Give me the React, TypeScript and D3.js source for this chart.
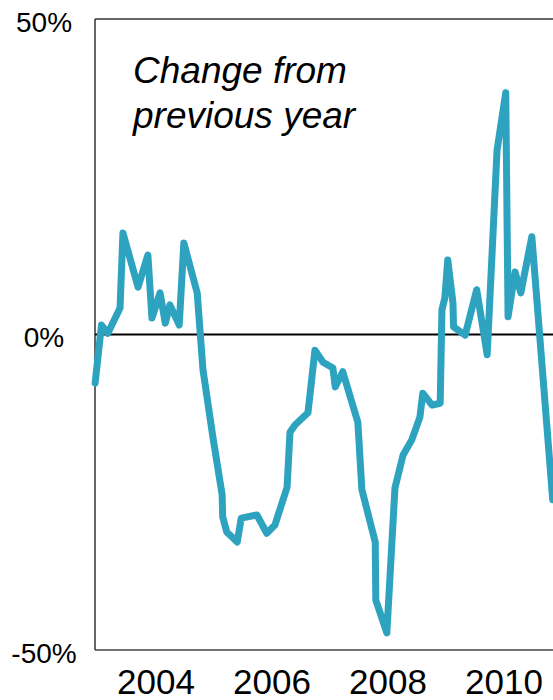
import { useMemo } from 'react'
import * as d3 from 'd3'

// decimal year of each vertex, and year-on-year change in percent
const times = [
  2002.95, 2003.06, 2003.17, 2003.38, 2003.43, 2003.69, 2003.86, 2003.93,
  2004.07, 2004.16, 2004.24, 2004.4, 2004.48, 2004.71, 2004.81, 2004.98,
  2005.14, 2005.15, 2005.22, 2005.4, 2005.47, 2005.74, 2005.91, 2006.05,
  2006.26, 2006.31, 2006.4, 2006.62, 2006.74, 2006.88, 2007.05, 2007.09,
  2007.22, 2007.48, 2007.55, 2007.78, 2007.79, 2007.98, 2008.12, 2008.26,
  2008.41, 2008.55, 2008.6, 2008.76, 2008.9, 2008.93, 2008.98, 2009.03,
  2009.12, 2009.13, 2009.33, 2009.41, 2009.53, 2009.71, 2009.88, 2010.03,
  2010.07, 2010.19, 2010.29, 2010.48, 2010.84,
]
const changes = [
  -7.7, 1.5, 0.2, 4.2, 16.1, 7.5, 12.6, 2.6,
  6.6, 1.8, 4.7, 1.5, 14.5, 6.6, -5.6, -16.2,
  -25.4, -28.9, -31.3, -32.9, -29.1, -28.6, -31.5, -30.2,
  -24.2, -15.5, -14.3, -12.4, -2.5, -4.4, -5.3, -8.3,
  -5.9, -13.9, -24.6, -32.9, -42.1, -47.3, -24.3, -19.1,
  -16.7, -13.1, -9.3, -11.2, -10.9, 3.9, 5.8, 11.8,
  5.0, 1.2, -0.1, 2.8, 7.1, -3.2, 29.2, 38.3,
  2.8, 9.9, 6.6, 15.5, -26.2,
]
const yTicks = [-50, 0, 50]
const yearTicks = [2004, 2006, 2008, 2010]

const W = 553
const H = 700
const font = '"Liberation Sans", Arial, sans-serif'

export default function App() {
  const left = 95
  const top = 19
  const bottom = 650

  const x = d3.scaleLinear().domain([2003, 2011]).range([98, 98 + 8 * 58])
  const y = d3.scaleLinear().domain([-50, 50]).range([bottom, top])

  const path = useMemo(() => {
    const pts = times.map((t, i) => [t, changes[i]] as [number, number])
    return d3.line<[number, number]>()
      .x(d => x(d[0]))
      .y(d => y(d[1]))(pts)
  }, [])

  return (
    <svg width={W} height={H} style={{ position: 'absolute', left: 0, top: 0, background: '#fff' }}>
      {/* frame */}
      <line x1={left} x2={left} y1={top} y2={bottom} stroke="#333" strokeWidth={1.5} />
      <line x1={left} x2={W} y1={top} y2={top} stroke="#333" strokeWidth={1.5} />
      <line x1={left} x2={W} y1={bottom} y2={bottom} stroke="#444" strokeWidth={1.5} />
      <line x1={left} x2={W} y1={y(0)} y2={y(0)} stroke="#000" strokeWidth={2} />

      {yTicks.map(t => (
        <text key={t} x={44} y={y(t) + 12.5} textAnchor="middle" fontFamily={font} fontSize={28} fill="#000">
          {t}%
        </text>
      ))}
      {yearTicks.map(t => (
        <text key={t} x={x(t)} y={694} textAnchor="middle" fontFamily={font} fontSize={35} fill="#000">
          {t}
        </text>
      ))}

      <text x={133} y={83} fontFamily={font} fontStyle="italic" fontSize={37} fill="#000">Change from</text>
      <text x={133} y={128} fontFamily={font} fontStyle="italic" fontSize={37} fill="#000">previous year</text>

      <path d={path ?? ''} fill="none" stroke="#2ea3c0" strokeWidth={7}
        strokeLinejoin="round" strokeLinecap="round" />
    </svg>
  )
}
